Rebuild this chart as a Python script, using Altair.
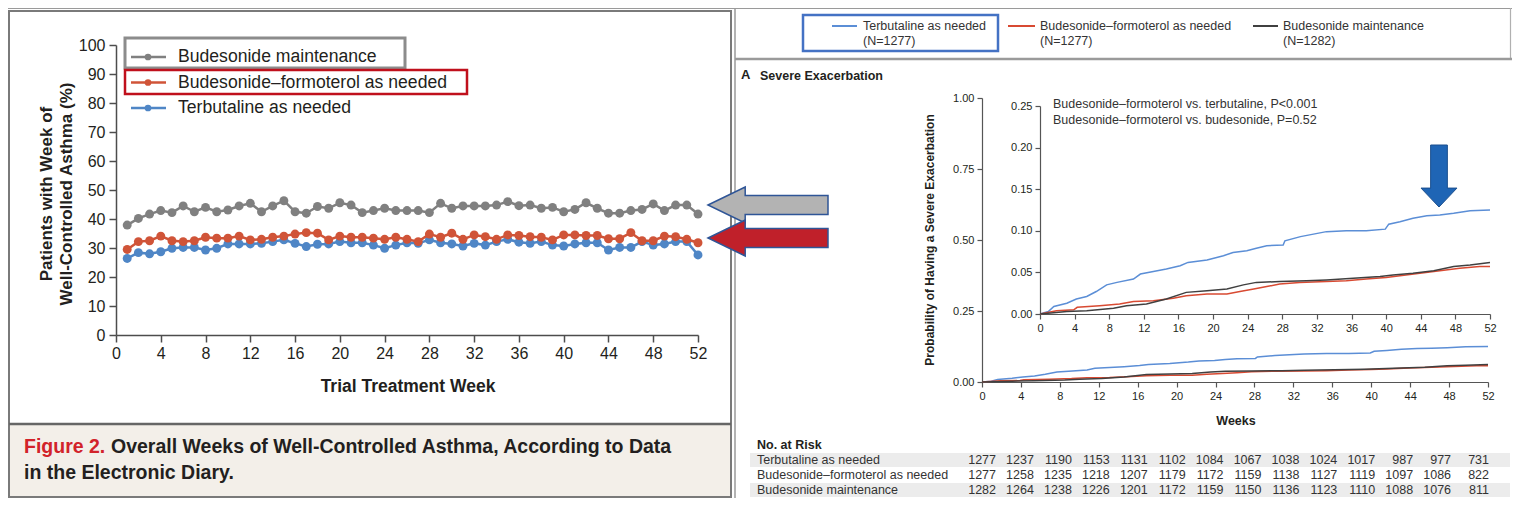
import altair as alt
import pandas as pd

# ---------------------------------------------------------------- canvas
W, H = 1504, 490


def X(v):  # reference pixel -> canvas pixel (page has 8px margin)
    return v - 8


def Y(v):
    return v - 8


FONT = "Liberation Sans, Arial, Helvetica, sans-serif"
INK = "#231f20"

# ---------------------------------------------------------------- data: left chart (Figure 2)
weeks = list(range(1, 53))
bud_maint_pct = [37.9, 40.2, 41.7, 42.9, 42.2, 44.5, 42.5, 44.0, 42.5, 43.1,
                 44.5, 45.4, 42.5, 44.5, 46.3, 42.5, 42.0, 44.3, 43.7, 45.6,
                 44.8, 42.2, 42.9, 43.7, 42.9, 42.9, 42.9, 42.2, 45.4, 43.7,
                 44.5, 44.5, 44.5, 44.8, 46.0, 44.6, 44.8, 43.7, 44.0, 42.5,
                 43.3, 45.6, 43.7, 42.0, 42.0, 42.9, 43.3, 45.2, 42.9, 44.8,
                 44.8, 41.7]
bud_form_pct = [29.5, 32.2, 32.5, 34.1, 32.5, 32.2, 32.5, 33.7, 33.4, 33.4,
                34.1, 32.8, 33.0, 33.7, 34.1, 34.8, 35.3, 35.1, 32.8, 34.1,
                33.7, 33.7, 33.4, 33.0, 33.7, 33.0, 32.2, 34.8, 33.7, 35.1,
                33.0, 34.5, 33.9, 33.0, 34.5, 34.3, 33.9, 33.7, 32.8, 34.5,
                34.5, 34.3, 34.3, 33.2, 33.2, 35.3, 32.5, 32.5, 34.1, 33.9,
                33.0, 31.8]
terb_pct = [26.4, 28.4, 28.0, 28.7, 29.9, 30.2, 30.2, 29.3, 29.9, 31.4,
            31.4, 31.4, 31.6, 32.2, 32.8, 31.6, 30.5, 31.3, 31.4, 32.2,
            31.8, 31.8, 31.0, 29.9, 31.0, 31.8, 31.6, 32.8, 31.8, 31.4,
            30.7, 31.6, 31.0, 32.2, 33.0, 32.0, 31.6, 32.2, 31.0, 30.7,
            31.4, 31.8, 31.8, 29.3, 30.2, 30.2, 32.2, 31.0, 31.4, 32.2,
            32.2, 27.6]
left_names = ["Budesonide maintenance", "Budesonide\u2013formoterol as needed", "Terbutaline as needed"]
left_colors = ["#808080", "#d05438", "#4f86c6"]

# ---------------------------------------------------------------- data: right chart (Kaplan-Meier)
km_terb_w = [0, 0.96, 1.6, 3.1, 4.2, 5.4, 6.5, 7.7, 8.9, 10.8, 11.6, 13.1, 14.6, 16.2, 17.1,
             19.3, 21.2, 22.3, 23.9, 25.0, 26.2, 28.1, 28.3, 30.1, 31.6, 33.1, 35.4, 37.7,
             39.9, 40.3, 41.6, 43.1, 44.7, 46.2, 47.8, 49.7, 52]
km_terb_p = [0, 0.003, 0.009, 0.013, 0.018, 0.021, 0.027, 0.035, 0.038, 0.042, 0.048, 0.051,
             0.054, 0.058, 0.062, 0.065, 0.070, 0.074, 0.076, 0.079, 0.082, 0.083, 0.088,
             0.093, 0.096, 0.099, 0.100, 0.100, 0.102, 0.108, 0.111, 0.115, 0.118, 0.119,
             0.121, 0.124, 0.125]
km_bf_w = [0, 1.9, 3.9, 4.3, 6.9, 9.2, 10.8, 13.1, 15.4, 16.9, 19.3, 21.6, 23.1, 24.7, 26.2,
           27.7, 30.0, 33.1, 35.4, 37.7, 40.0, 41.6, 43.9, 46.2, 48.5, 50.8, 52]
km_bf_p = [0, 0.004, 0.005, 0.008, 0.010, 0.012, 0.015, 0.016, 0.019, 0.022, 0.024, 0.024,
           0.027, 0.030, 0.033, 0.036, 0.038, 0.039, 0.040, 0.042, 0.044, 0.046, 0.049,
           0.052, 0.055, 0.057, 0.057]
km_bm_w = [0, 3.1, 5.4, 8.5, 10.0, 12.3, 14.6, 16.9, 19.3, 21.6, 23.5, 25.0, 27.7, 30.8, 33.1,
           36.2, 39.3, 40.8, 43.1, 45.5, 47.8, 49.7, 52]
km_bm_p = [0, 0.003, 0.004, 0.007, 0.010, 0.012, 0.018, 0.026, 0.028, 0.030, 0.035, 0.038,
           0.039, 0.040, 0.041, 0.043, 0.045, 0.047, 0.049, 0.052, 0.057, 0.059, 0.062]
km_colors = {"terb": "#5b8ed6", "bf": "#d84a32", "bm": "#404040"}

risk_weeks = list(range(0, 53, 4))
risk_terb = [1277, 1237, 1190, 1153, 1131, 1102, 1084, 1067, 1038, 1024, 1017, 987, 977, 731]
risk_bf = [1277, 1258, 1235, 1218, 1207, 1179, 1172, 1159, 1138, 1127, 1119, 1097, 1086, 822]
risk_bm = [1282, 1264, 1238, 1226, 1201, 1172, 1159, 1150, 1136, 1123, 1110, 1088, 1076, 811]
risk_names = ["Terbutaline as needed", "Budesonide\u2013formoterol as needed", "Budesonide maintenance"]

one = alt.Data(values=[{}])


# ---------------------------------------------------------------- helpers
def text(t, x, y, size, color=INK, weight="normal", align="left", baseline="middle", angle=None, lh=None):
    kw = dict(text=t, font=FONT, fontSize=size, color=color, fontWeight=weight, align=align, baseline=baseline)
    if angle is not None:
        kw["angle"] = angle
    if lh is not None:
        kw["lineHeight"] = lh
    return alt.Chart(one).mark_text(**kw).encode(x=alt.value(x), y=alt.value(y))


def box(x1, y1, x2, y2, stroke=None, sw=1.0, fill="transparent"):
    kw = dict(fill=fill)
    if stroke:
        kw.update(stroke=stroke, strokeWidth=sw)
    return alt.Chart(one).mark_rect(**kw).encode(
        x=alt.value(x1), x2=alt.value(x2), y=alt.value(y1), y2=alt.value(y2))


def hline(x1, x2, y, color, sw):
    return alt.Chart(one).mark_rule(color=color, strokeWidth=sw).encode(
        x=alt.value(x1), x2=alt.value(x2), y=alt.value(y))


def vline(x, y1, y2, color, sw):
    return alt.Chart(one).mark_rule(color=color, strokeWidth=sw).encode(
        x=alt.value(x), y=alt.value(y1), y2=alt.value(y2))


def sc(domain, rng):
    return alt.Scale(domain=domain, range=rng, nice=False, zero=False)


def ax(orient, offset, values, fs, tick, pad, fmt=None, color="#555555", width=1.2):
    kw = dict(orient=orient, offset=offset, values=values, title=None, grid=False,
              labelFlush=False, labelOverlap=False, labelFont=FONT, labelFontSize=fs,
              labelColor=INK, tickSize=tick, tickColor=color, tickWidth=width,
              domainColor=color, domainWidth=width, labelPadding=pad)
    if fmt:
        kw["format"] = fmt
    return alt.Axis(**kw)


layers = []

# ---------------------------------------------------------------- frames / backgrounds
layers.append(hline(0, W, 0.5, "#9a9a9a", 1.2))
layers.append(box(1, Y(424), X(731), H - 1, fill="#f3efe9"))
layers.append(box(1, 3, X(731), H - 1, stroke="#7a7a7a", sw=2))
layers.append(hline(1, X(731), Y(424), "#666666", 2.5))
layers.append(vline(X(735), 0, H, "#9a9a9a", 1.5))
layers.append(vline(W - 1.5, 0, Y(60), "#b0b0b0", 1.2))
layers.append(hline(X(735), W, Y(59), "#9a9a9a", 2.5))

# ---------------------------------------------------------------- left chart
LX = sc([0, 52], [X(116), X(698)])
LY = sc([0, 100], [Y(335), Y(45)])
left_series = [(terb_pct, left_colors[2]), (bud_form_pct, left_colors[1]), (bud_maint_pct, left_colors[0])]
for k, (vals, col) in enumerate(left_series):
    df = pd.DataFrame({"week": weeks, "pct": vals})
    xa = ax("bottom", Y(335) - H, list(range(0, 53, 4)), 16, 7, 3, color="#4d4d4d", width=1.5) if k == 0 else None
    ya = ax("left", -X(116), list(range(0, 101, 10)), 16, 7, 4, color="#4d4d4d", width=1.5) if k == 0 else None
    layers.append(alt.Chart(df).mark_line(color=col, strokeWidth=2.5).encode(
        x=alt.X("week:Q", scale=LX, axis=xa), y=alt.Y("pct:Q", scale=LY, axis=ya)))
    layers.append(alt.Chart(df).mark_circle(color=col, size=80, opacity=1).encode(
        x=alt.X("week:Q", scale=LX, axis=None), y=alt.Y("pct:Q", scale=LY, axis=None)))

layers.append(text(["Patients with Week of", "Well-Controlled Asthma (%)"], X(47), Y(194), 17,
                   weight="bold", align="center", angle=270, lh=20))
layers.append(text("Trial Treatment Week", X(408), Y(387), 17.5, weight="bold", align="center"))

# left legend
leg = pd.DataFrame({"i": [0, 1, 2], "name": left_names})
LEGY = sc([0, 2], [Y(57), Y(108)])
lcol = alt.Color("name:N", scale=alt.Scale(domain=left_names, range=left_colors), legend=None)
layers.append(alt.Chart(leg).mark_rule(strokeWidth=2.5).encode(
    x=alt.value(X(131)), x2=alt.value(X(166)), y=alt.Y("i:Q", scale=LEGY, axis=None), color=lcol))
layers.append(alt.Chart(leg).mark_circle(size=45, opacity=1).encode(
    x=alt.value(X(148)), y=alt.Y("i:Q", scale=LEGY, axis=None), color=lcol))
layers.append(alt.Chart(leg).mark_text(font=FONT, fontSize=17.6, color=INK, align="left", baseline="middle").encode(
    x=alt.value(X(178)), y=alt.Y("i:Q", scale=LEGY, axis=None), text="name:N"))
layers.append(box(X(125), Y(38), X(405), Y(68), stroke="#8c8c8c", sw=3))
layers.append(box(X(125), Y(70), X(467), Y(94), stroke="#c0101c", sw=2.5))

# caption
layers.append(text("Figure 2.", X(24), Y(447), 19.5, color="#d2232a", weight="bold"))
layers.append(text("Overall Weeks of Well-Controlled Asthma, According to Data", X(111), Y(447), 19.5, weight="bold"))
layers.append(text("in the Electronic Diary.", X(24), Y(473), 19.5, weight="bold"))

# ---------------------------------------------------------------- right panel: legend + heading
layers.append(box(X(803), Y(15), X(998), Y(51), stroke="#4472c4", sw=2.5))
for (x1, x2, tx, col, name, n) in [
        (832, 857, 863, km_colors["terb"], "Terbutaline as needed", "(N=1277)"),
        (1008, 1035, 1040, km_colors["bf"], "Budesonide\u2013formoterol as needed", "(N=1277)"),
        (1253, 1278, 1283, km_colors["bm"], "Budesonide maintenance", "(N=1282)")]:
    layers.append(hline(X(x1), X(x2), Y(26), col, 2))
    layers.append(text(name, X(tx), Y(26), 12.5, color="#333333"))
    layers.append(text(n, X(tx), Y(41), 12.5, color="#333333"))

layers.append(text("A", X(741), Y(75), 13, weight="bold"))
layers.append(text("Severe Exacerbation", X(760), Y(76), 12.5, weight="bold"))

# ---------------------------------------------------------------- right chart: main (0-1) and inset (0-0.25)
MX = sc([0, 52], [X(982), X(1488)])
MY = sc([0, 1], [Y(382), Y(98)])
IX = sc([0, 52], [X(1040), X(1490)])
IY = sc([0, 0.25], [Y(314), Y(106)])
km = [(km_terb_w, km_terb_p, km_colors["terb"]),
      (km_bf_w, km_bf_p, km_colors["bf"]),
      (km_bm_w, km_bm_p, km_colors["bm"])]
for k, (wk, pr, col) in enumerate(km):
    df = pd.DataFrame({"week": wk, "p": pr})
    if k == 0:
        mxa = ax("bottom", Y(382) - H, list(range(0, 53, 4)), 11, 5, 3)
        mya = ax("left", -X(982), [0, 0.25, 0.5, 0.75, 1.0], 11, 5, 3, fmt=".2f")
        ixa = ax("bottom", Y(314) - H, list(range(0, 53, 4)), 11, 5, 3)
        iya = ax("left", -X(1040), [0, 0.05, 0.10, 0.15, 0.20, 0.25], 11, 5, 3, fmt=".2f")
    else:
        mxa = mya = ixa = iya = None
    layers.append(alt.Chart(df).mark_line(color=col, strokeWidth=1.5).encode(
        x=alt.X("week:Q", scale=MX, axis=mxa), y=alt.Y("p:Q", scale=MY, axis=mya)))
    layers.append(alt.Chart(df).mark_line(color=col, strokeWidth=1.5).encode(
        x=alt.X("week:Q", scale=IX, axis=ixa), y=alt.Y("p:Q", scale=IY, axis=iya)))

layers.append(text("Probability of Having a Severe Exacerbation", X(930), Y(240), 12,
                   weight="bold", align="center", angle=270))
layers.append(text("Weeks", X(1236), Y(421), 12.5, weight="bold", align="center"))
layers.append(text("Budesonide\u2013formoterol vs. terbutaline, P<0.001", X(1053), Y(104), 12.5, color="#333333"))
layers.append(text("Budesonide\u2013formoterol vs. budesonide, P=0.52", X(1053), Y(120), 12.5, color="#333333"))

# ---------------------------------------------------------------- number at risk table
TY = sc([0, 2], [Y(460), Y(490)])
TX = sc([0, 52], [X(996), X(1489)])
shade = pd.DataFrame({"i": [0, 2]})
layers.append(alt.Chart(shade).mark_rule(color="#ececec", strokeWidth=14).encode(
    x=alt.value(X(750)), x2=alt.value(X(1510)), y=alt.Y("i:Q", scale=TY, axis=None)))
layers.append(text("No. at Risk", X(757), Y(445), 12.5, weight="bold"))
rowlab = pd.DataFrame({"i": [0, 1, 2], "name": risk_names})
layers.append(alt.Chart(rowlab).mark_text(font=FONT, fontSize=12.5, color="#333333", align="left",
                                          baseline="middle").encode(
    x=alt.value(X(757)), y=alt.Y("i:Q", scale=TY, axis=None), text="name:N"))
tab = pd.DataFrame([{"i": i, "week": w, "n": str(n)}
                    for i, arr in enumerate([risk_terb, risk_bf, risk_bm])
                    for w, n in zip(risk_weeks, arr)])
layers.append(alt.Chart(tab).mark_text(font=FONT, fontSize=12.5, color="#333333", align="right",
                                       baseline="middle").encode(
    x=alt.X("week:Q", scale=TX, axis=None), y=alt.Y("i:Q", scale=TY, axis=None), text="n:N"))

# ---------------------------------------------------------------- annotation arrows
LEFT_ARROW = "M-1,0L-0.38,-0.3L-0.38,-0.16L1,-0.16L1,0.16L-0.38,0.16L-0.38,0.3Z"
DOWN_ARROW = "M-0.27,-1L0.27,-1L0.27,0.39L0.58,0.39L0,1L-0.58,0.39L-0.27,0.39Z"
for (cyv, fill) in [(205, "#b3b3b3"), (238, "#c0202a")]:
    layers.append(alt.Chart(one).mark_point(shape=LEFT_ARROW, size=14400, filled=True, fill=fill,
                                            stroke="#2f5597", strokeWidth=1.5, opacity=1).encode(
        x=alt.value(X(768)), y=alt.value(Y(cyv))))
layers.append(alt.Chart(one).mark_point(shape=DOWN_ARROW, size=3844, filled=True, fill="#1f65b5",
                                        stroke="#1b4f8e", strokeWidth=1, opacity=1).encode(
    x=alt.value(X(1439)), y=alt.value(Y(176))))

chart = alt.layer(*layers).resolve_scale(
    x="independent", y="independent", color="independent"
).properties(
    width=W, height=H, padding=0, autosize=alt.AutoSizeParams(type="none")
).configure_view(strokeWidth=0)

chart.save("out.html", embed_options={"renderer": "svg", "actions": False})
